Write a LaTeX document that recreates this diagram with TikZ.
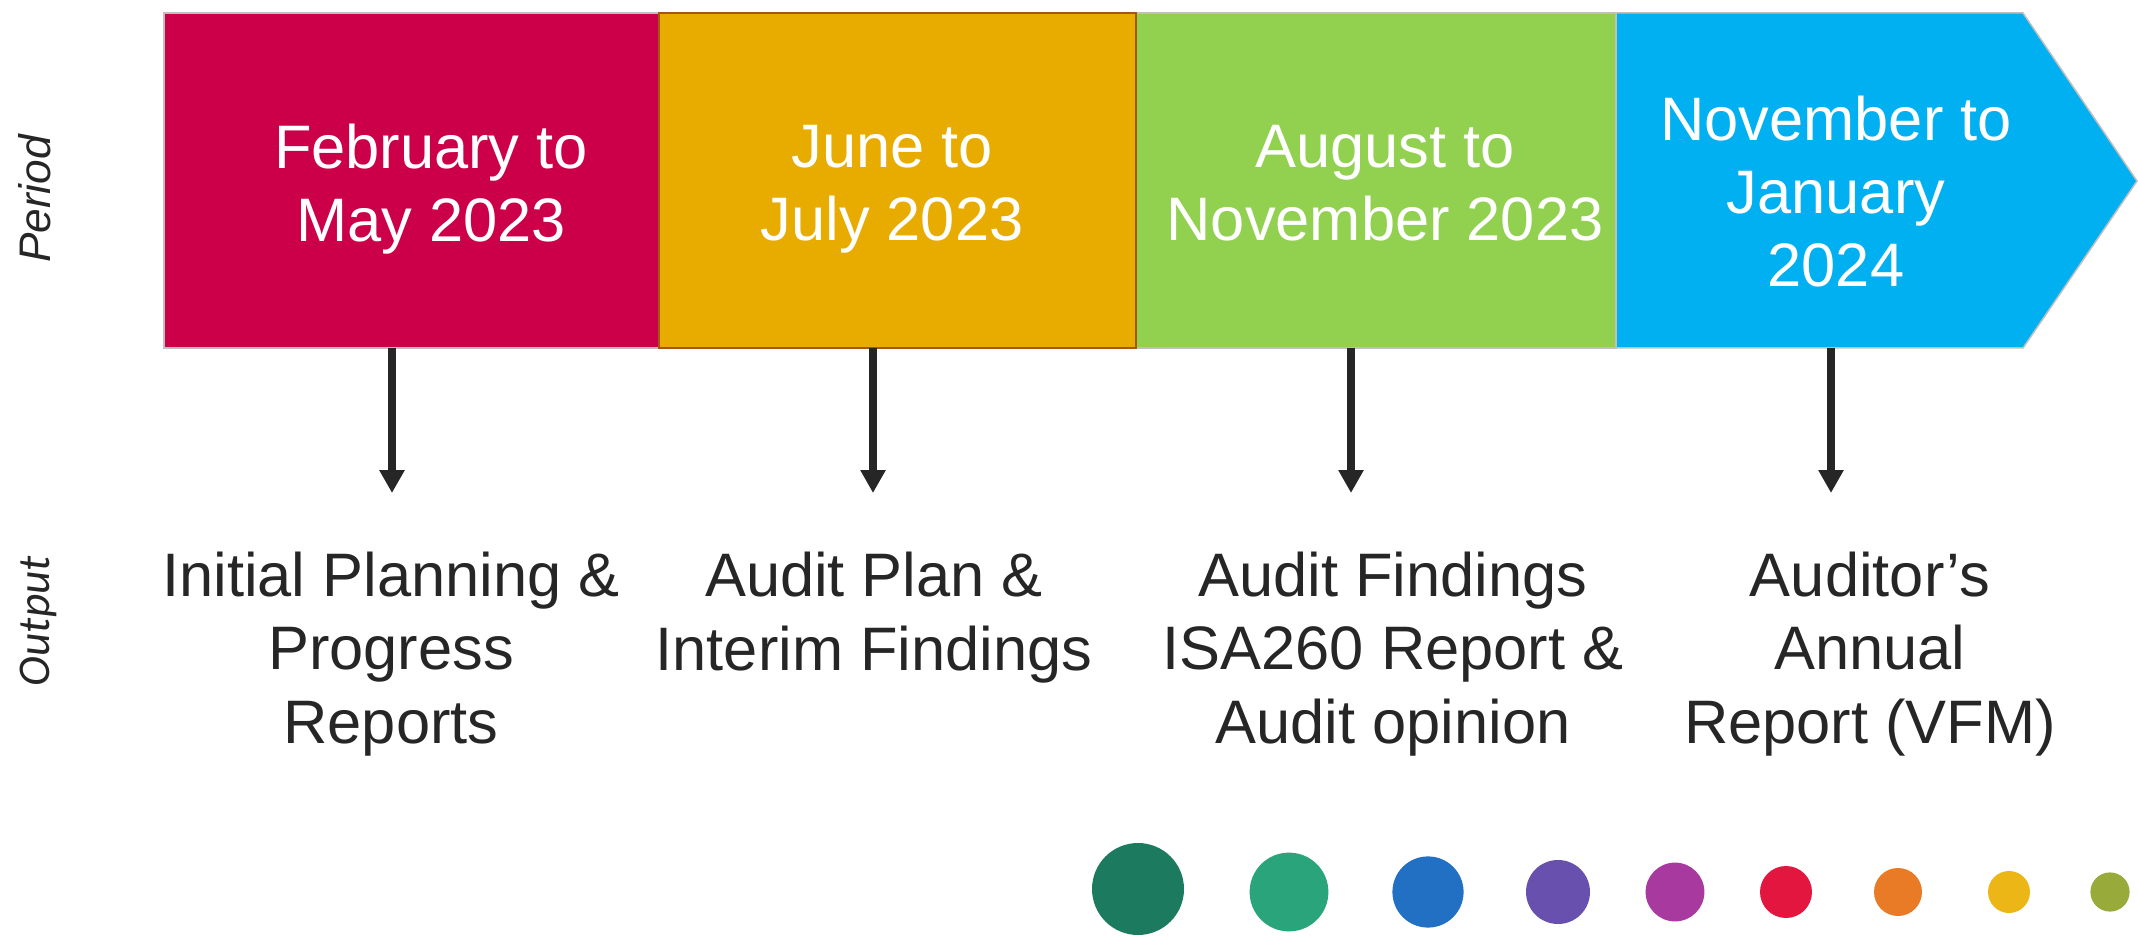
\documentclass[tikz,border=0pt]{standalone}
\usepackage{fontspec}
\setmainfont{Liberation Sans}
\newfontfamily\calfont{Carlito}
\usetikzlibrary{arrows.meta}
\definecolor{cRed}{HTML}{CC0049}
\definecolor{cOrange}{HTML}{E8AC00}
\definecolor{cOrangeEdge}{HTML}{A0581A}
\definecolor{cGreen}{HTML}{92D050}
\definecolor{cBlue}{HTML}{00B0F0}
\definecolor{cEdge}{HTML}{BFBFBF}
\definecolor{cText}{HTML}{262626}
\definecolor{d1}{HTML}{1C7A5F}
\definecolor{d2}{HTML}{2AA57B}
\definecolor{d3}{HTML}{2170C4}
\definecolor{d4}{HTML}{6750AE}
\definecolor{d5}{HTML}{A8399F}
\definecolor{d6}{HTML}{E2163F}
\definecolor{d7}{HTML}{E97B26}
\definecolor{d8}{HTML}{ECB716}
\definecolor{d9}{HTML}{98AA3A}
\tikzset{
  period/.style={draw=cEdge, line width=0.75pt},
  boxtext/.style={text=white, align=center, anchor=base, inner sep=0pt,
    font=\fontsize{30.7}{36.75}\selectfont},
  outtext/.style={text=cText, align=center, anchor=base, inner sep=0pt,
    font=\fontsize{30.7}{36.75}\selectfont},
  sidelabel/.style={text=cText, rotate=90, inner sep=0pt},
  linkarrow/.style={draw=cText, line width=4pt,
    -{Triangle[width=12pt,length=11.5pt]}},
  dot/.style={draw=none}
}
\begin{document}
\begin{tikzpicture}[x=0.5pt,y=-0.5pt]
\useasboundingbox (0,0) rectangle (2138,936);
% period boxes
\path[period, fill=cRed] (164,13) rectangle (659,348);
\path[period, fill=cGreen] (1136,13) rectangle (1616,348);
\path[period, fill=cBlue] (1616,13) -- (2023,13) -- (2137,181) -- (2023,348) -- (1616,348) -- cycle;
\path[draw=cOrangeEdge, line width=0.75pt, fill=cOrange] (659,13) rectangle (1136,348);
% box texts (base = last line baseline)
\node[boxtext] (p1) at (431,242) {February to\\May 2023};
\node[boxtext] (p2) at (892,241) {June to\\July 2023};
\node[boxtext] (p3) at (1385,241) {August to\\November 2023};
\node[boxtext] (p4) at (1836,287) {November to\\January\\2024};
% side labels
\node[sidelabel, font=\fontsize{22.1}{26}\selectfont\itshape] (lp) at (35,199) {Period};
\node[sidelabel, font=\fontsize{22.7}{27}\selectfont\calfont\itshape] (lo) at (38,621) {Output};
% arrow anchors
\coordinate (s1) at (392,348);
\coordinate (s2) at (873,348);
\coordinate (s3) at (1351,348);
\coordinate (s4) at (1831,348);
\coordinate (t1) at (392,493);
\coordinate (t2) at (873,493);
\coordinate (t3) at (1351,493);
\coordinate (t4) at (1831,493);
\draw[linkarrow] (s1) -- (t1);
\draw[linkarrow] (s2) -- (t2);
\draw[linkarrow] (s3) -- (t3);
\draw[linkarrow] (s4) -- (t4);
% outputs
\node[outtext] (o1) at (391,743) {Initial Planning \&\\Progress\\Reports};
\node[outtext] (o2) at (874,670) {Audit Plan \&\\Interim Findings};
\node[outtext] (o3) at (1393,743) {Audit Findings\\ISA260 Report \&\\Audit opinion};
\node[outtext] (o4) at (1870,743) {Auditor’s\\Annual\\Report (VFM)};
% dots
\fill[d1] (1138,889) circle[radius=23pt];
\fill[d2] (1289,892) circle[radius=19.7pt];
\fill[d3] (1428,892) circle[radius=17.8pt];
\fill[d4] (1558,892) circle[radius=16pt];
\fill[d5] (1675,892) circle[radius=14.7pt];
\fill[d6] (1786,892) circle[radius=13pt];
\fill[d7] (1898,892) circle[radius=12pt];
\fill[d8] (2009,892) circle[radius=10.5pt];
\fill[d9] (2110,892) circle[radius=9.8pt];
\end{tikzpicture}
\end{document}
